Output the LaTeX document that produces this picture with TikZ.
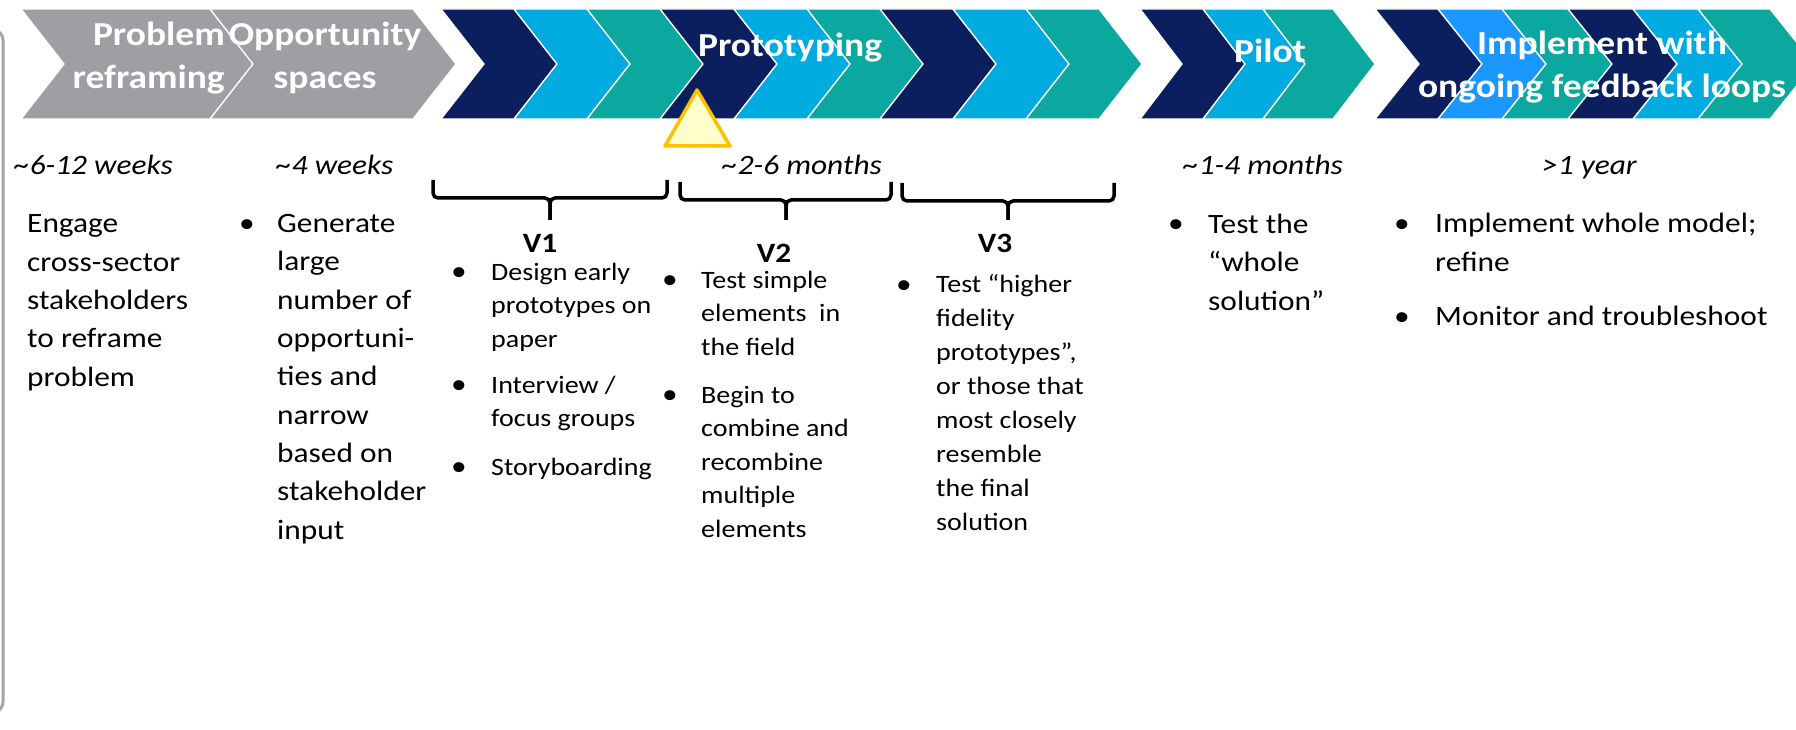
\documentclass[tikz,border=0pt]{standalone}
\usepackage{fontspec}
\setmainfont{Carlito}[FakeStretch=1.12]
\usetikzlibrary{positioning}

\definecolor{chevNavy}{HTML}{0B1F5E}
\definecolor{chevSky}{HTML}{00ABE0}
\definecolor{chevTeal}{HTML}{0AA89E}
\definecolor{chevAzure}{HTML}{1B98FF}
\definecolor{chevGray}{HTML}{9D9FA2}
\definecolor{frameGray}{HTML}{A3A4A6}
\definecolor{markFill}{HTML}{FFFFCC}
\definecolor{markLine}{HTML}{FFC000}

% one arrow segment: left x, width, point depth, colour
\newcommand{\chevshape}[4]{%
  \draw[chev=#4] (#1,9) -- ({#1+#2},9) -- ({#1+#2+#3},64) -- ({#1+#2},119)
    -- (#1,119) -- ({#1+#3},64) -- cycle;}

\begin{document}
\begin{tikzpicture}[x=1pt,y=-1pt,
  chev/.style={fill=#1,draw=white,line width=1.3pt},
  title/.style={text=white,font=\fontsize{33.5}{43}\selectfont\bfseries,inner sep=0pt},
  dur/.style={font=\fontsize{28}{38}\selectfont\itshape,inner sep=0pt,anchor=base west},
  body/.style={font=\fontsize{28}{38.3}\selectfont,inner sep=0pt,align=left,anchor=base west},
  small/.style={font=\fontsize{25}{33.5}\selectfont,inner sep=0pt,align=left,anchor=base west},
  dot/.style={font=\fontsize{28}{38}\selectfont,inner sep=0pt,anchor=base},
  ver/.style={font=\fontsize{28}{34}\selectfont\bfseries,inner sep=0pt,anchor=base},
  brace/.style={line width=3.5pt,rounded corners=5pt}]
  \useasboundingbox (0,0) rectangle (1796,730);

  % side frame
  \draw[frameGray,line width=3pt,rounded corners=10pt] (-40,30) -- (3,30) -- (3,712) -- (-40,712);

  % grey phases
  \chevshape{21}{189}{43}{chevGray}
  \chevshape{210}{203}{43}{chevGray}
  % prototyping
  \chevshape{441}{73}{43}{chevNavy}
  \chevshape{514}{73}{43}{chevSky}
  \chevshape{587}{73}{43}{chevTeal}
  \chevshape{660}{74}{43}{chevNavy}
  \chevshape{734}{73}{43}{chevSky}
  \chevshape{807}{73}{43}{chevTeal}
  \chevshape{880}{73}{43}{chevNavy}
  \chevshape{953}{73}{43}{chevSky}
  \chevshape{1026}{73}{43}{chevTeal}
  % pilot
  \chevshape{1140}{63}{42}{chevNavy}
  \chevshape{1203}{60}{42}{chevSky}
  \chevshape{1263}{70}{42}{chevTeal}
  % implement
  \chevshape{1375}{63}{44}{chevNavy}
  \chevshape{1438}{64}{44}{chevAzure}
  \chevshape{1502}{66}{44}{chevTeal}
  \chevshape{1568}{65}{44}{chevNavy}
  \chevshape{1633}{65}{44}{chevSky}
  \chevshape{1698}{72}{44}{chevTeal}

  % phase titles (multi-line nodes sit on their last baseline)
  \node[title,align=right,anchor=base east] (tProblem) at (225,89) {Problem\\reframing};
  \node[title,align=center,anchor=base] (tOpp) at (325,89) {Opportunity\\spaces};
  \node[title,anchor=base] (tProto) at (790,57) {Prototyping};
  \node[title,anchor=base] (tPilot) at (1270,63) {Pilot};
  \node[title,align=center,anchor=base] (tImpl) at (1602,98) {Implement with\\ongoing feedback loops};

  % marker
  \draw[fill=markFill,draw=markLine,line width=3.5pt,line join=round]
    (697,90) -- (730,146) -- (665,146) -- cycle;

  % durations
  \node[dur] (dProblem) at (14,175) {\textasciitilde6-12 weeks};
  \node[dur] (dOpp) at (276,175) {\textasciitilde4 weeks};
  \node[dur] (dProto) at (722,175) {\textasciitilde2-6 months};
  \node[dur] (dPilot) at (1183,175) {\textasciitilde1-4 months};
  \node[dur] (dImpl) at (1542,175) {>1 year};

  % versions
  \draw[brace] (433,180) -- (433,198) -- (550,198) -- (550,220);
  \draw[brace] (667,180) -- (667,198) -- (550,198) -- (550,220);
  \draw[brace] (680,182) -- (680,200) -- (786,200) -- (786,220);
  \draw[brace] (891,182) -- (891,200) -- (786,200) -- (786,220);
  \draw[brace] (902,183) -- (902,201) -- (1008,201) -- (1008,220);
  \draw[brace] (1114,183) -- (1114,201) -- (1008,201) -- (1008,220);
  \node[ver] (v1) at (540,252) {V1};
  \node[ver] (v2) at (774,262) {V2};
  \node[ver] (v3) at (995,252) {V3};

  % problem reframing
  \node[body] (bProblem) at (27,386) {Engage\\cross-sector\\stakeholders\\to reframe\\problem};
  % opportunity spaces
  \node[dot] (pOpp) at (247,233) {•};
  \node[body] (bOpp) at (277,539) {Generate\\large\\number of\\opportuni-\\ties and\\narrow\\based on\\stakeholder\\input};
  % V1
  \node[dot] (p1a) at (459,280) {•};
  \node[small] (b1a) at (491,347) {Design early\\prototypes on\\paper};
  \node[dot] (p1b) at (459,393) {•};
  \node[small] (b1b) at (491,426.5) {Interview /\\focus groups};
  \node[dot] (p1c) at (459,475) {•};
  \node[small] (b1c) at (491,475) {Storyboarding};
  % V2
  \node[dot] (p2a) at (670,288) {•};
  \node[small] (b2a) at (701,355) {Test simple\\elements\ \ in\\the field};
  \node[dot] (p2b) at (670,403) {•};
  \node[small] (b2b) at (701,537) {Begin to\\combine and\\recombine\\multiple\\elements};
  % V3
  \node[dot] (p3a) at (904,293) {•};
  \node[small,font=\fontsize{25}{33.9}\selectfont] (b3a) at (936,530) {Test “higher\\fidelity\\prototypes”,\\or those that\\most closely\\resemble\\the final\\solution};
  % pilot
  \node[dot] (pPilot) at (1176,233) {•};
  \node[body] (bPilot) at (1208,310) {Test the\\“whole\\solution”};
  % implement
  \node[dot] (pImpl1) at (1402,233) {•};
  \node[body] (bImpl1) at (1435,271) {Implement whole model;\\refine};
  \node[dot] (pImpl2) at (1402,325) {•};
  \node[body] (bImpl2) at (1435,325) {Monitor and troubleshoot};
\end{tikzpicture}
\end{document}
